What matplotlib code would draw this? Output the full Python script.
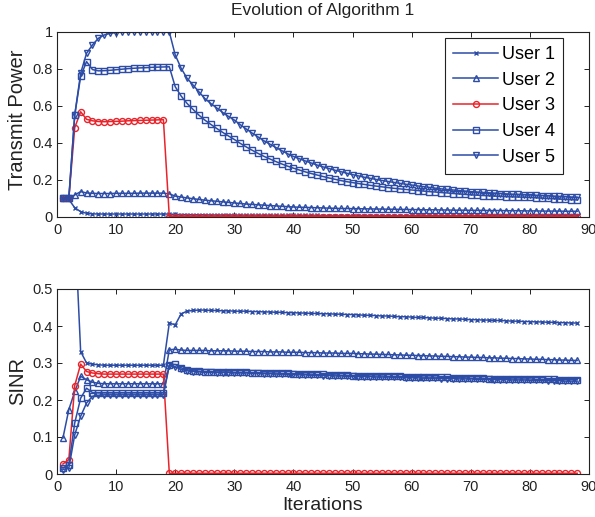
import matplotlib
matplotlib.use("Agg")
import matplotlib.pyplot as plt
from matplotlib.ticker import FuncFormatter

plt.rcParams['font.family'] = ['Liberation Sans', 'DejaVu Sans']

iterations = list(range(1, 89))
labels = ["User 1", "User 2", "User 3", "User 4", "User 5"]
x_ticks = [0, 10, 20, 30, 40, 50, 60, 70, 80, 90]
power_ticks = [0, 0.2, 0.4, 0.6, 0.8, 1]
sinr_ticks = [0, 0.1, 0.2, 0.3, 0.4, 0.5]

user1_power = [
    0.100, 0.095, 0.050, 0.029, 0.020, 0.017, 0.016, 0.016, 0.016, 0.016,
    0.016, 0.016, 0.016, 0.016, 0.016, 0.016, 0.016, 0.016, 0.016, 0.014,
    0.013, 0.013, 0.012, 0.012, 0.012, 0.011, 0.011, 0.011, 0.011, 0.011,
    0.010, 0.010, 0.010, 0.010, 0.010, 0.010, 0.009, 0.009, 0.009, 0.009,
    0.009, 0.009, 0.009, 0.009, 0.008, 0.008, 0.008, 0.008, 0.008, 0.008,
    0.008, 0.008, 0.008, 0.008, 0.007, 0.007, 0.007, 0.007, 0.007, 0.007,
    0.007, 0.007, 0.007, 0.007, 0.007, 0.007, 0.006, 0.006, 0.006, 0.006,
    0.006, 0.006, 0.006, 0.006, 0.006, 0.006, 0.006, 0.006, 0.005, 0.005,
    0.005, 0.005, 0.005, 0.005, 0.005, 0.005, 0.005, 0.005]
user2_power = [
    0.100, 0.100, 0.119, 0.137, 0.130, 0.128, 0.127, 0.127, 0.127, 0.128,
    0.128, 0.128, 0.128, 0.129, 0.129, 0.129, 0.129, 0.129, 0.125, 0.113,
    0.108, 0.103, 0.099, 0.095, 0.091, 0.088, 0.085, 0.082, 0.079, 0.076,
    0.073, 0.070, 0.068, 0.066, 0.064, 0.062, 0.060, 0.058, 0.056, 0.054,
    0.053, 0.052, 0.051, 0.050, 0.049, 0.048, 0.047, 0.046, 0.046, 0.045,
    0.045, 0.044, 0.044, 0.043, 0.043, 0.042, 0.042, 0.041, 0.041, 0.040,
    0.040, 0.039, 0.039, 0.039, 0.038, 0.038, 0.037, 0.037, 0.037, 0.036,
    0.036, 0.036, 0.035, 0.035, 0.035, 0.034, 0.034, 0.034, 0.033, 0.033,
    0.033, 0.032, 0.032, 0.032, 0.032, 0.031, 0.031, 0.031]
user3_power = [
    0.100, 0.100, 0.483, 0.569, 0.528, 0.520, 0.516, 0.515, 0.516, 0.517,
    0.518, 0.520, 0.521, 0.522, 0.523, 0.524, 0.525, 0.526, 0.002, 0.002,
    0.002, 0.002, 0.002, 0.002, 0.002, 0.002, 0.002, 0.002, 0.002, 0.002,
    0.002, 0.002, 0.002, 0.002, 0.002, 0.002, 0.002, 0.002, 0.002, 0.002,
    0.002, 0.002, 0.002, 0.002, 0.002, 0.002, 0.002, 0.002, 0.002, 0.002,
    0.002, 0.002, 0.002, 0.002, 0.002, 0.002, 0.002, 0.002, 0.002, 0.002,
    0.002, 0.002, 0.002, 0.002, 0.002, 0.002, 0.002, 0.002, 0.002, 0.002,
    0.002, 0.002, 0.002, 0.002, 0.002, 0.002, 0.002, 0.002, 0.002, 0.002,
    0.002, 0.002, 0.002, 0.002, 0.002, 0.002, 0.002, 0.002]
user4_power = [
    0.100, 0.100, 0.551, 0.760, 0.840, 0.797, 0.790, 0.791, 0.793, 0.796,
    0.799, 0.802, 0.804, 0.806, 0.807, 0.809, 0.810, 0.811, 0.812, 0.704,
    0.654, 0.614, 0.582, 0.551, 0.524, 0.501, 0.479, 0.458, 0.438, 0.419,
    0.398, 0.379, 0.361, 0.344, 0.328, 0.314, 0.300, 0.287, 0.275, 0.264,
    0.254, 0.244, 0.235, 0.227, 0.219, 0.211, 0.204, 0.197, 0.191, 0.186,
    0.181, 0.176, 0.171, 0.167, 0.163, 0.159, 0.155, 0.152, 0.149, 0.146,
    0.143, 0.140, 0.137, 0.135, 0.132, 0.130, 0.127, 0.125, 0.122, 0.120,
    0.118, 0.116, 0.115, 0.113, 0.112, 0.110, 0.109, 0.108, 0.107, 0.106,
    0.104, 0.102, 0.100, 0.099, 0.097, 0.095, 0.094, 0.092]
user5_power = [
    0.100, 0.100, 0.551, 0.777, 0.885, 0.930, 0.966, 0.984, 0.993, 0.997,
    0.999, 1.000, 1.000, 1.000, 1.000, 1.000, 1.000, 1.000, 1.000, 0.876,
    0.804, 0.750, 0.714, 0.677, 0.641, 0.614, 0.590, 0.566, 0.544, 0.524,
    0.499, 0.476, 0.454, 0.433, 0.412, 0.394, 0.376, 0.359, 0.342, 0.327,
    0.315, 0.303, 0.292, 0.281, 0.271, 0.262, 0.253, 0.245, 0.237, 0.229,
    0.222, 0.215, 0.209, 0.203, 0.197, 0.192, 0.187, 0.182, 0.177, 0.173,
    0.168, 0.164, 0.160, 0.156, 0.152, 0.149, 0.146, 0.143, 0.140, 0.137,
    0.135, 0.133, 0.131, 0.129, 0.127, 0.125, 0.123, 0.122, 0.120, 0.119,
    0.117, 0.116, 0.114, 0.113, 0.111, 0.110, 0.108, 0.107]

user1_sinr = [
    4.800, 3.200, 0.680, 0.331, 0.300, 0.297, 0.295, 0.294, 0.294, 0.294,
    0.294, 0.294, 0.294, 0.294, 0.294, 0.294, 0.294, 0.294, 0.408, 0.403,
    0.433, 0.440, 0.442, 0.443, 0.443, 0.442, 0.442, 0.441, 0.441, 0.440,
    0.440, 0.440, 0.439, 0.439, 0.438, 0.438, 0.437, 0.437, 0.436, 0.436,
    0.435, 0.435, 0.434, 0.434, 0.433, 0.433, 0.432, 0.432, 0.431, 0.431,
    0.430, 0.429, 0.429, 0.428, 0.427, 0.427, 0.426, 0.425, 0.425, 0.424,
    0.423, 0.423, 0.422, 0.421, 0.421, 0.420, 0.419, 0.419, 0.418, 0.417,
    0.417, 0.416, 0.416, 0.415, 0.415, 0.414, 0.413, 0.413, 0.412, 0.412,
    0.411, 0.411, 0.410, 0.410, 0.409, 0.409, 0.408, 0.408]
user2_sinr = [
    0.097, 0.174, 0.223, 0.264, 0.255, 0.248, 0.245, 0.244, 0.244, 0.244,
    0.244, 0.244, 0.244, 0.244, 0.244, 0.244, 0.244, 0.244, 0.336, 0.337,
    0.335, 0.334, 0.334, 0.334, 0.334, 0.333, 0.333, 0.333, 0.333, 0.332,
    0.332, 0.332, 0.331, 0.331, 0.331, 0.330, 0.330, 0.330, 0.329, 0.329,
    0.329, 0.328, 0.328, 0.328, 0.327, 0.327, 0.327, 0.326, 0.326, 0.326,
    0.325, 0.325, 0.324, 0.324, 0.323, 0.323, 0.322, 0.322, 0.321, 0.321,
    0.320, 0.320, 0.319, 0.319, 0.318, 0.318, 0.317, 0.317, 0.316, 0.316,
    0.315, 0.315, 0.314, 0.314, 0.313, 0.313, 0.312, 0.312, 0.311, 0.311,
    0.310, 0.310, 0.309, 0.309, 0.308, 0.308, 0.307, 0.307]
user3_sinr = [
    0.027, 0.039, 0.239, 0.297, 0.277, 0.273, 0.271, 0.270, 0.270, 0.270,
    0.270, 0.270, 0.270, 0.270, 0.270, 0.270, 0.270, 0.270, 0.002, 0.002,
    0.002, 0.002, 0.002, 0.002, 0.002, 0.002, 0.002, 0.002, 0.002, 0.002,
    0.002, 0.002, 0.002, 0.002, 0.002, 0.002, 0.002, 0.002, 0.002, 0.002,
    0.002, 0.002, 0.002, 0.002, 0.002, 0.002, 0.002, 0.002, 0.002, 0.002,
    0.002, 0.002, 0.002, 0.002, 0.002, 0.002, 0.002, 0.002, 0.002, 0.002,
    0.002, 0.002, 0.002, 0.002, 0.002, 0.002, 0.002, 0.002, 0.002, 0.002,
    0.002, 0.002, 0.002, 0.002, 0.002, 0.002, 0.002, 0.002, 0.002, 0.002,
    0.002, 0.002, 0.002, 0.002, 0.002, 0.002, 0.002, 0.002]
user4_sinr = [
    0.016, 0.025, 0.138, 0.205, 0.232, 0.220, 0.219, 0.219, 0.219, 0.219,
    0.219, 0.219, 0.219, 0.219, 0.219, 0.219, 0.219, 0.219, 0.295, 0.296,
    0.287, 0.282, 0.279, 0.278, 0.277, 0.277, 0.276, 0.276, 0.276, 0.275,
    0.275, 0.275, 0.274, 0.274, 0.273, 0.273, 0.273, 0.272, 0.272, 0.271,
    0.271, 0.270, 0.270, 0.269, 0.269, 0.268, 0.268, 0.267, 0.267, 0.266,
    0.266, 0.266, 0.265, 0.265, 0.265, 0.264, 0.264, 0.264, 0.263, 0.263,
    0.263, 0.262, 0.262, 0.262, 0.261, 0.261, 0.260, 0.260, 0.260, 0.259,
    0.259, 0.259, 0.258, 0.258, 0.258, 0.258, 0.257, 0.257, 0.257, 0.257,
    0.256, 0.256, 0.256, 0.256, 0.255, 0.255, 0.255, 0.255]
user5_sinr = [
    0.012, 0.016, 0.106, 0.156, 0.192, 0.210, 0.213, 0.214, 0.214, 0.214,
    0.214, 0.214, 0.214, 0.214, 0.214, 0.214, 0.214, 0.214, 0.293, 0.290,
    0.283, 0.279, 0.277, 0.276, 0.275, 0.275, 0.274, 0.274, 0.274, 0.273,
    0.273, 0.273, 0.272, 0.272, 0.271, 0.271, 0.270, 0.270, 0.269, 0.269,
    0.268, 0.268, 0.267, 0.267, 0.266, 0.266, 0.265, 0.265, 0.264, 0.264,
    0.263, 0.263, 0.263, 0.262, 0.262, 0.262, 0.261, 0.261, 0.260, 0.260,
    0.260, 0.259, 0.259, 0.259, 0.258, 0.258, 0.258, 0.257, 0.257, 0.257,
    0.256, 0.256, 0.256, 0.255, 0.255, 0.255, 0.254, 0.254, 0.254, 0.253,
    0.253, 0.253, 0.252, 0.252, 0.252, 0.251, 0.251, 0.251]

power_series = [user1_power, user2_power, user3_power, user4_power, user5_power]
sinr_series = [user1_sinr, user2_sinr, user3_sinr, user4_sinr, user5_sinr]
for s in power_series + sinr_series:
    assert len(s) == len(iterations), len(s)

BLUE = "#2c4ca6"
RED = "#e8242b"
styles = [
    dict(color=BLUE, marker="x", ms=3.2, mew=1.0),
    dict(color=BLUE, marker="^", ms=4.3, mew=1.0),
    dict(color=RED, marker="o", ms=4.3, mew=1.0),
    dict(color=BLUE, marker="s", ms=3.7, mew=1.0),
    dict(color=BLUE, marker="v", ms=4.3, mew=1.0),
]

W, H = 595, 517
fig = plt.figure(figsize=(W / 100, H / 100), dpi=100)

def px_axes(left, top, right, bottom):
    return fig.add_axes([left / W, 1 - bottom / H, (right - left) / W, (bottom - top) / H])

ax1 = px_axes(57, 32, 589, 217)
ax2 = px_axes(57, 289, 589, 474)

def fmt(v, pos):
    return "%g" % v

for ax, series, yt, ylim in [(ax1, power_series, power_ticks, (0, 1)),
                             (ax2, sinr_series, sinr_ticks, (0, 0.5))]:
    for vals, st, lab in zip(series, styles, labels):
        ax.plot(iterations, vals, color=st["color"], marker=st["marker"],
                markersize=st["ms"], markeredgewidth=st["mew"],
                markerfacecolor="none", linewidth=1.1, label=lab)
    ax.set_xlim(0, 90)
    ax.set_ylim(*ylim)
    ax.set_xticks(x_ticks)
    ax.set_yticks(yt)
    ax.xaxis.set_major_formatter(FuncFormatter(fmt))
    ax.yaxis.set_major_formatter(FuncFormatter(fmt))
    ax.tick_params(direction="in", length=3.5, width=0.7, top=True, right=True,
                   labelsize=10.5, colors="#222222", pad=3)
    ax.tick_params(axis="x", pad=4.5)
    for sp in ax.spines.values():
        sp.set_linewidth(0.8)
        sp.set_color("#222222")

leg = ax1.legend(loc="upper right", bbox_to_anchor=(0.951, 0.968), fontsize=13,
                 frameon=True, fancybox=False, framealpha=1, edgecolor="#222222",
                 handlelength=2.5, handletextpad=0.2, labelspacing=0.48,
                 borderpad=0.45, borderaxespad=0)
leg.get_frame().set_linewidth(0.8)

fig.text(323 / W, 1 - 10 / H, "Evolution of Algorithm 1", ha="center", va="center",
         fontsize=12.5, color="#222222")
fig.text(18 / W, 1 - 120 / H, "Transmit Power", ha="center", va="center",
         rotation=90, fontsize=14.5, color="#222222")
fig.text(18 / W, 1 - 381 / H, "SINR", ha="center", va="center",
         rotation=90, fontsize=14.5, color="#222222")
fig.text(323 / W, 1 - 505 / H, "Iterations", ha="center", va="center",
         fontsize=14, color="#222222")

fig.savefig("out.png", dpi=100)
